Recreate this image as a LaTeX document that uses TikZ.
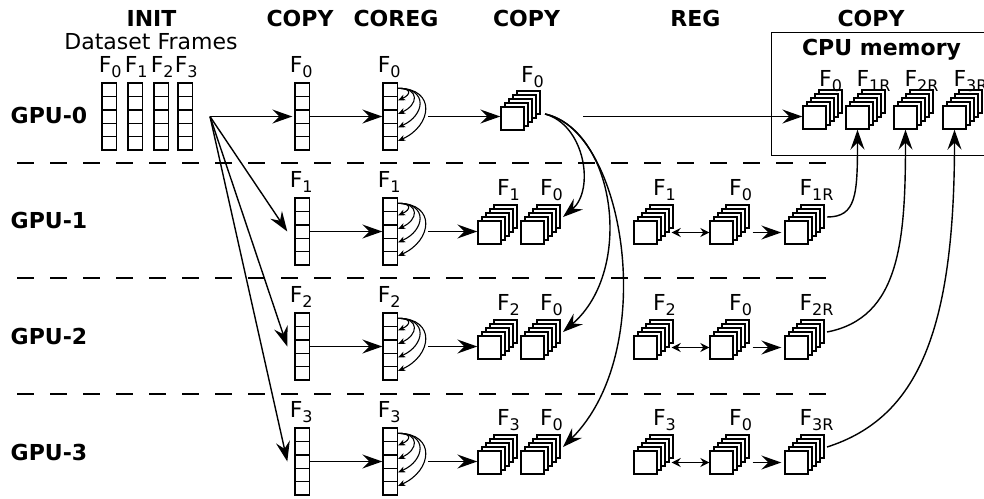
\documentclass[tikz,border=0pt]{standalone}
\usepackage{fontspec}
\setmainfont{DejaVu Sans}
\usetikzlibrary{arrows.meta}
\newcommand{\Fl}[1]{F\raisebox{-5pt}{\fontsize{16}{16}\selectfont #1}}
\newcommand{\mkstack}[3]{%
  \foreach \kk in {4,3,2,1}{\draw[fill=white] ({#2+4*\kk},{#3-4*\kk}) rectangle ++(23,23);}
  \node[sq] (#1) at ({#2+11.5},{#3+11.5}) {};
  \coordinate (#1-b) at ({#2+27.5},{#3-16});
  \coordinate (#1-e) at ({#2+42},{#3-4});
}
\newcommand{\mkstrip}[3]{%
  \node[stripbox] (#1) at ({#2+7.25},{#3+33.5}) {};
  \foreach \kk in {1,2,3,4}{\draw ({#2},{#3+13.4*\kk}) -- ++(14.5,0);}
}
\begin{document}
\begin{tikzpicture}[x=1pt,y=-1pt,line width=1.4pt,
  sq/.style={draw,fill=white,minimum size=23pt,inner sep=0pt},
  stripbox/.style={draw,minimum width=14.5pt,minimum height=67pt,inner sep=0pt},
  lbl/.style={anchor=base,inner sep=0pt,font=\fontsize{22}{26}\selectfont},
  hdr/.style={anchor=base,inner sep=0pt,font=\bfseries\fontsize{22}{26}\selectfont},
  gpu/.style={anchor=base west,inner sep=0pt,font=\bfseries\fontsize{22}{26}\selectfont},
  arrbig/.style={-{Stealth[length=20pt,width=14pt,inset=7pt]}},
  arrsmall/.style={line width=1.1pt,-{Stealth[length=7pt,width=6pt,inset=2pt]}},
  arrdbl/.style={{Stealth[length=9pt,width=9pt,inset=3pt]}-{Stealth[length=9pt,width=9pt,inset=3pt]}},
  sepline/.style={dash pattern=on 17pt off 16pt,line width=2.2pt}]
\useasboundingbox (0,0) rectangle (984,498);
\clip (0,0) rectangle (984,498);

% headers
\node[hdr] (hInit) at (151.5,26) {INIT};
\node[lbl] (ds) at (151,49) {Dataset Frames};
\node[hdr] (hCopyA) at (300,26) {COPY};
\node[hdr] (hCoreg) at (396,26) {COREG};
\node[hdr] (hCopyB) at (526.5,26) {COPY};
\node[hdr] (hReg) at (695.5,26) {REG};
\node[hdr] (hCopyC) at (871,26) {COPY};

% GPU labels
\node[gpu] (L0) at (10,123) {GPU-0};
\node[gpu] (L1) at (10,228) {GPU-1};
\node[gpu] (L2) at (10,344) {GPU-2};
\node[gpu] (L3) at (10,460) {GPU-3};

% separators
\foreach \yy in {163,278,394} \draw[sepline] (17,\yy) -- (827,\yy);

% CPU memory box
\node[draw,anchor=north west,minimum width=240pt,minimum height=123pt,inner sep=0pt] (cpu) at (771,32) {};
\node[hdr] (cpuT) at (881.5,55) {CPU memory};

% init strips
\mkstrip{i0}{102}{83}
\mkstrip{i1}{128}{83}
\mkstrip{i2}{154}{83}
\mkstrip{i3}{178}{83}
\foreach \ii in {0,1,2,3} \node[lbl] at ([xshift=1pt,yshift=10pt]i\ii.north) {\Fl{\ii}};

% copy / coreg strips
\foreach \rr/\tt in {0/83,1/198,2/313,3/428}{
  \mkstrip{cp\rr}{295}{\tt}
  \mkstrip{cr\rr}{383}{\tt}
  \node[lbl] at ([xshift=-1pt,yshift=10pt]cp\rr.north) {\Fl{\rr}};
  \node[lbl] at ([xshift=-1pt,yshift=10pt]cr\rr.north) {\Fl{\rr}};
}

% stacks
\mkstack{B0}{501}{107}
\node[lbl] at ([xshift=4pt,yshift=9pt]B0-b) {\Fl{0}};
\foreach \rr/\tt in {1/221,2/336,3/451}{
  \mkstack{A\rr}{478}{\tt}
  \mkstack{B\rr}{521}{\tt}
  \mkstack{Rf\rr}{634}{\tt}
  \mkstack{Rz\rr}{710}{\tt}
  \mkstack{Rr\rr}{785}{\tt}
  \node[lbl] at ([xshift=3pt,yshift=10pt]A\rr-b) {\Fl{\rr}};
  \node[lbl] at ([xshift=3pt,yshift=10pt]B\rr-b) {\Fl{0}};
  \node[lbl] at ([xshift=3pt,yshift=10pt]Rf\rr-b) {\Fl{\rr}};
  \node[lbl] at ([xshift=3pt,yshift=10pt]Rz\rr-b) {\Fl{0}};
  \node[lbl] at ([xshift=4pt,yshift=10pt]Rr\rr-b) {\Fl{\rr R}};
}
\mkstack{C0}{803}{106}
\mkstack{C1}{846}{106}
\mkstack{C2}{894}{106}
\mkstack{C3}{943}{106}
\node[lbl] at ([yshift=4pt]C0-b) {\Fl{0}};
\node[lbl] at ([yshift=4pt]C1-b) {\Fl{1R}};
\node[lbl] at ([yshift=4pt]C2-b) {\Fl{2R}};
\node[lbl] at ([yshift=4pt]C3-b) {\Fl{3R}};

% connectors
\coordinate (src) at (210,116.5);
\draw[arrbig] (src) -- ([xshift=-2pt]cp0.west);
\foreach \rr in {1,2,3} \draw[arrbig] (src) -- ([xshift=-7pt]cp\rr.west);
\foreach \rr in {0,1,2,3}{
  \draw[arrbig] (cp\rr.east) -- (cr\rr.west);
  \foreach \dd/\cc in {18/14,31.5/22,45/30,58.5/38}
    \draw[arrsmall] ([yshift=-6pt]cr\rr.north east) .. controls +(\cc,0) and +(0.9*\cc,-0.4*\cc) .. ([yshift=-\dd pt]cr\rr.north east);
}
\draw[arrbig] ([xshift=30pt]cr0.east) -- (cr0.east -| B0.west);
\foreach \rr in {1,2,3}{
  \draw[arrbig] ([xshift=30pt]cr\rr.east) -- (cr\rr.east -| A\rr.west);
  \draw[arrdbl] ([xshift=14pt]Rf\rr.east) -- (Rz\rr.west);
  \draw[arrbig] ([xshift=19pt]Rz\rr.east) -- ([xshift=-3pt]Rr\rr.west);
}
\coordinate (g0) at (545,114);
\draw[arrbig] (g0) .. controls +(40,11) and +(32,-27) .. (B1-e);
\draw[arrbig] (g0) .. controls +(70,16) and +(72,-62) .. (B2-e);
\draw[arrbig] (g0) .. controls +(80,16) and +(97,-97) .. (B3-e);
\coordinate (h0) at (583,116.5);
\draw[arrbig] (h0) -- (h0 -| C0.west);
\draw[arrbig] (Rr1-e) .. controls +(29,0) and +(0,66) .. (C1.south);
\draw[arrbig] (Rr2-e) .. controls +(73,-14) and +(0,111) .. (C2.south);
\draw[arrbig] (Rr3-e) .. controls +(91,-29) and +(0,201) .. (C3.south);
\end{tikzpicture}
\end{document}
